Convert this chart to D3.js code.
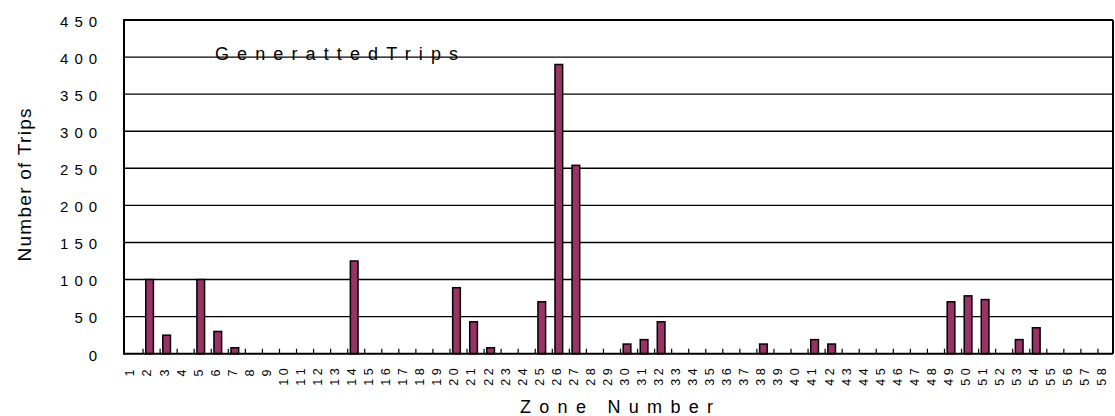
<!DOCTYPE html>
<html>
<head>
<meta charset="utf-8">
<script src="https://cdn.jsdelivr.net/npm/d3@7"></script>
<style>
  body { margin: 0; background: #fff; }
  text { font-family: "Liberation Sans", Arial, sans-serif; fill: #000; }
</style>
</head>
<body>
<div id="chart"></div>
<script>
// zone numbers (categories) and generated trips per zone
var zones = ["1","2","3","4","5","6","7","8","9","10","11","12","13","14","15","16","17","18","19","20",
  "21","22","23","24","25","26","27","28","29","30","31","32","33","34","35","36","37","38","39","40",
  "41","42","43","44","45","46","47","48","49","50","51","52","53","54","55","56","57","58"];
var trips = [0,100,25,0,100,30,8,0,0,0,0,0,0,125,0,0,0,0,0,89,
  43,8,0,0,70,390,254,0,0,13,19,43,0,0,0,0,0,13,0,0,
  19,13,0,0,0,0,0,0,70,78,73,0,19,35,0,0,0,0];
var yTicks = [0,50,100,150,200,250,300,350,400,450];

var svgWidth = 1115;
var svgHeight = 416;
var margin = {top: 20, right: 2, bottom: 62.3, left: 124};
var width = 1113 - margin.left;
var height = svgHeight - margin.top - margin.bottom;

var svg = d3.select("#chart")
  .append("svg")
  .attr("width", svgWidth)
  .attr("height", svgHeight);

var chartGroup = svg.append("g")
  .attr("transform", `translate(${margin.left}, ${margin.top})`);

// scales
var xCat = d3.scaleBand().domain(zones).range([0, width]).padding(0);
var xBar = xCat.copy().paddingInner(0.55).paddingOuter(0.275);
var yScale = d3.scaleLinear().domain([0, 450]).range([height, 0]);

// gridlines
chartGroup.append("g")
  .selectAll("line")
  .data(yTicks.filter(d => d > 0))
  .enter().append("line")
  .attr("x1", 0).attr("x2", width)
  .attr("y1", d => yScale(d)).attr("y2", d => yScale(d))
  .attr("stroke", "#000")
  .attr("stroke-width", d => d === 450 ? 2 : 1.4);

// right border
chartGroup.append("line")
  .attr("x1", width).attr("x2", width)
  .attr("y1", 0).attr("y2", height)
  .attr("stroke", "#000").attr("stroke-width", 2);

// y axis labels
var leftAxis = d3.axisLeft(yScale).tickValues(yTicks).tickSize(0).tickPadding(0);
var yAxisG = chartGroup.append("g").call(leftAxis);
yAxisG.select(".domain").remove();
yAxisG.selectAll("text")
  .attr("x", -27)
  .attr("dy", "0.42em")
  .attr("textLength", d => String(d).length * 14.3 - 6)
  .attr("lengthAdjust", "spacing")
  .style("font-size", "15px")
  .style("font-family", "'Liberation Sans', Arial, sans-serif");

// bars
chartGroup.append("g")
  .selectAll("rect")
  .data(zones.map((z, i) => ({zone: z, value: trips[i]})).filter(d => d.value > 0))
  .enter().append("rect")
  .attr("x", d => xBar(d.zone))
  .attr("width", xBar.bandwidth())
  .attr("y", d => yScale(d.value))
  .attr("height", d => height - yScale(d.value))
  .attr("fill", "#993366")
  .attr("stroke", "#000")
  .attr("stroke-width", 1.5);

// category ticks (inside, at category boundaries)
chartGroup.append("g")
  .selectAll("line")
  .data(zones.slice(1))
  .enter().append("line")
  .attr("x1", d => xCat(d) + 2).attr("x2", d => xCat(d) + 2)
  .attr("y1", height).attr("y2", height - 5)
  .attr("stroke", "#000").attr("stroke-width", 1.2);

// axes lines
chartGroup.append("line")
  .attr("x1", 0).attr("x2", width)
  .attr("y1", height).attr("y2", height)
  .attr("stroke", "#000").attr("stroke-width", 2);
chartGroup.append("line")
  .attr("x1", 0).attr("x2", 0)
  .attr("y1", -1).attr("y2", height + 1)
  .attr("stroke", "#000").attr("stroke-width", 2);

// x tick labels, rotated to read bottom-to-top, top edge aligned
zones.forEach(function(z) {
  var cx = margin.left + xCat(z) + xCat.bandwidth() / 2 - 2.5;
  var len = z.length * 9.3 - 1;
  svg.append("text")
    .attr("transform", `translate(${cx + 4.4}, ${margin.top + height + 14.5 + len}) rotate(-90)`)
    .attr("textLength", len)
    .attr("lengthAdjust", "spacing")
    .style("font-size", "12.5px")
    .text(z);
});

// in-plot label
chartGroup.append("text")
  .attr("x", 215 - margin.left)
  .attr("y", 60 - margin.top)
  .attr("textLength", 243)
  .attr("lengthAdjust", "spacing")
  .style("font-size", "18px")
  .text("GenerattedTrips");

// axis titles
svg.append("text")
  .attr("transform", "translate(31, 185) rotate(-90)")
  .attr("text-anchor", "middle")
  .attr("textLength", 153)
  .attr("lengthAdjust", "spacing")
  .style("font-size", "19px")
  .text("Number of Trips");

svg.append("text")
  .attr("x", 616.5)
  .attr("y", 412.5)
  .attr("text-anchor", "middle")
  .attr("textLength", 193)
  .attr("lengthAdjust", "spacing")
  .style("font-size", "18px")
  .text("Zone Number");
</script>
</body>
</html>
